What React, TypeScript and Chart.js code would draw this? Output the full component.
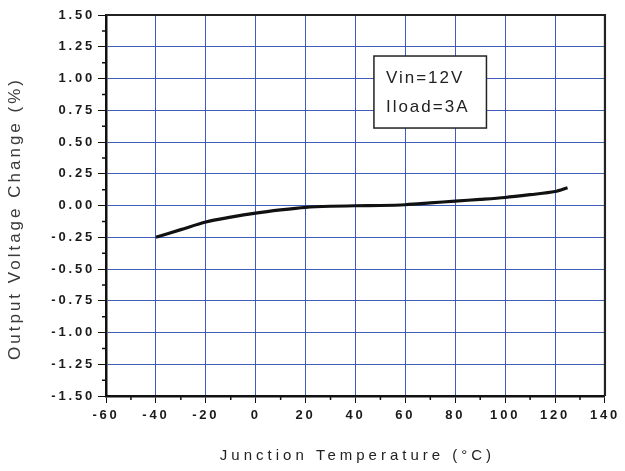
import { useEffect, useRef } from "react";
import { Chart, registerables } from "chart.js";

Chart.register(...registerables);

// ---- data ----
const temperatureC = [-40, -30, -20, -10, 0, 10, 20, 30, 40, 50, 60, 70, 80, 90, 100, 110, 120, 125];
const outputChangePct = [-0.25, -0.19, -0.13, -0.092, -0.06, -0.035, -0.015, -0.006, -0.002, 0, 0.006, 0.02, 0.035, 0.048, 0.063, 0.085, 0.11, 0.14];
const xTickValues = [-60, -40, -20, 0, 20, 40, 60, 80, 100, 120, 140];
const yTickValues = [-1.5, -1.25, -1.0, -0.75, -0.5, -0.25, 0, 0.25, 0.5, 0.75, 1.0, 1.25, 1.5];
const annotationLines = ["Vin=12V", "Iload=3A"];
const xTitle = "Junction Temperature (°C)";
const yTitle = "Output Voltage Change (%)";

const FONT = '"Liberation Sans", Arial, sans-serif';
const GRID_BLUE = "rgba(45,75,175,0.9)";
const TICK_SPACING = "2.8px";

const spacingPlugin = {
  id: "spacing",
  beforeUpdate(chart: any) {
    chart.ctx.letterSpacing = TICK_SPACING;
  },
  beforeDraw(chart: any) {
    chart.ctx.letterSpacing = TICK_SPACING;
  },
};

const decorPlugin = {
  id: "decor",
  afterDraw(chart: any) {
    const { ctx, chartArea: a, scales } = chart;
    const x = scales.x;
    const y = scales.y;
    ctx.save();
    ctx.letterSpacing = "0px";

    // minor ticks
    ctx.strokeStyle = "#111";
    ctx.lineWidth = 1.5;
    ctx.beginPath();
    for (let i = 0; i < xTickValues.length - 1; i++) {
      const px = x.getPixelForValue((xTickValues[i] + xTickValues[i + 1]) / 2);
      ctx.moveTo(px, a.bottom);
      ctx.lineTo(px, a.bottom + 4);
    }
    for (let i = 0; i < yTickValues.length - 1; i++) {
      const py = y.getPixelForValue((yTickValues[i] + yTickValues[i + 1]) / 2);
      ctx.moveTo(a.left - 4, py);
      ctx.lineTo(a.left, py);
    }
    ctx.stroke();

    // top & right frame
    ctx.strokeStyle = "#222";
    ctx.lineWidth = 2.2;
    ctx.beginPath();
    ctx.moveTo(a.left, a.top);
    ctx.lineTo(a.right, a.top);
    ctx.lineTo(a.right, a.bottom);
    ctx.stroke();

    // annotation box
    const bx0 = x.getPixelForValue(47.4);
    const bx1 = x.getPixelForValue(92.5);
    const by0 = y.getPixelForValue(1.177);
    const by1 = y.getPixelForValue(0.61);
    ctx.fillStyle = "#fff";
    ctx.fillRect(bx0, by0, bx1 - bx0, by1 - by0);
    ctx.strokeStyle = "#222";
    ctx.lineWidth = 1.5;
    ctx.strokeRect(bx0, by0, bx1 - bx0, by1 - by0);
    ctx.fillStyle = "#222";
    ctx.font = `17px ${FONT}`;
    ctx.letterSpacing = "2px";
    ctx.textAlign = "left";
    ctx.textBaseline = "middle";
    ctx.fillText(annotationLines[0], x.getPixelForValue(52.2), y.getPixelForValue(1.0));
    ctx.fillText(annotationLines[1], x.getPixelForValue(52.2), y.getPixelForValue(0.77));

    // x title
    ctx.font = `15px ${FONT}`;
    ctx.letterSpacing = "4px";
    ctx.textAlign = "center";
    ctx.fillStyle = "#222";
    ctx.fillText(xTitle, (a.left + a.right) / 2 + 2, 456);

    // y title
    ctx.save();
    ctx.translate(15, 220);
    ctx.rotate(-Math.PI / 2);
    ctx.font = `17px ${FONT}`;
    ctx.letterSpacing = "3px";
    ctx.fillStyle = "#3a3a3a";
    ctx.textAlign = "center";
    ctx.textBaseline = "middle";
    ctx.fillText(yTitle, 1.5, 0);
    ctx.restore();

    ctx.restore();
  },
};

export default function App() {
  const ref = useRef<HTMLCanvasElement | null>(null);

  useEffect(() => {
    if (!ref.current) return;
    const chart = new Chart(ref.current, {
      type: "line",
      data: {
        datasets: [
          {
            data: temperatureC.map((t, i) => ({ x: t, y: outputChangePct[i] })),
            borderColor: "#111",
            borderWidth: 3.2,
            pointRadius: 0,
            tension: 0.3,
            fill: false,
          },
        ],
      },
      options: {
        animation: false,
        responsive: false,
        devicePixelRatio: 1,
        layout: { padding: { left: 0, top: 15, right: 18, bottom: 0 } },
        plugins: {
          legend: { display: false },
          tooltip: { enabled: false },
        },
        scales: {
          x: {
            type: "linear",
            min: -60,
            max: 140,
            afterBuildTicks: (s: any) => {
              s.ticks = xTickValues.map((v) => ({ value: v }));
            },
            afterFit: (s: any) => {
              s.height = 75;
            },
            ticks: {
              autoSkip: false,
              maxRotation: 0,
              padding: 5,
              color: "#1a1a1a",
              font: { family: FONT, size: 13, weight: "bold" },
              callback: (v: any) => String(v),
            },
            grid: { color: GRID_BLUE, lineWidth: 1, tickColor: "#111", tickLength: 7 },
            border: { color: "#111", width: 2.5 },
          },
          y: {
            type: "linear",
            min: -1.5,
            max: 1.5,
            afterBuildTicks: (s: any) => {
              s.ticks = yTickValues.map((v) => ({ value: v }));
            },
            afterFit: (s: any) => {
              s.width = 106;
            },
            ticks: {
              autoSkip: false,
              padding: 3,
              color: "#1a1a1a",
              font: { family: FONT, size: 13, weight: "bold" },
              callback: (v: any) => Number(v).toFixed(2),
            },
            grid: { color: GRID_BLUE, lineWidth: 1, tickColor: "#111", tickLength: 8 },
            border: { color: "#111", width: 2.5 },
          },
        },
      },
      plugins: [spacingPlugin, decorPlugin],
    } as any);
    return () => chart.destroy();
  }, []);

  return (
    <div style={{ position: "fixed", left: 0, top: 0, width: 625, height: 471, background: "#fff" }}>
      <canvas ref={ref} width={625} height={471} style={{ width: 625, height: 471, display: "block" }} />
    </div>
  );
}
